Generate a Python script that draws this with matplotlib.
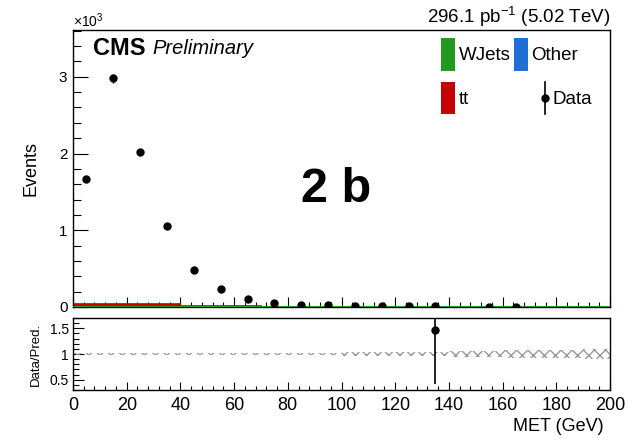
import numpy as np
import matplotlib
matplotlib.use("Agg")
import matplotlib.pyplot as plt
from matplotlib.ticker import MultipleLocator, FixedLocator
from matplotlib.patches import Rectangle
from matplotlib.lines import Line2D

plt.rcParams['font.family'] = ['Liberation Sans', 'DejaVu Sans']
plt.rcParams['mathtext.fontset'] = 'custom'
plt.rcParams['mathtext.rm'] = 'Liberation Sans'
plt.rcParams['mathtext.it'] = 'Liberation Sans:italic'
plt.rcParams['mathtext.bf'] = 'Liberation Sans:bold'

# ---------------- data ----------------
bin_edges = list(range(0, 210, 10))
bin_centers = [5, 15, 25, 35, 45, 55, 65, 75, 85, 95, 105, 115, 125, 135, 145, 155, 165, 175, 185, 195]
data_counts = [1670, 2980, 2020, 1050, 480, 235, 100, 55, 20, 30, 15, 15, 12, 8, 0, 6, 5, 0, 0, 0]
wjets = [6, 6, 6, 6, 6, 5, 5, 5, 5, 5, 5, 5, 5, 5, 5, 5, 5, 5, 5, 5]
other = [1, 1, 1, 1, 1, 1, 1, 1, 1, 1, 1, 1, 1, 1, 1, 1, 1, 1, 1, 1]
ttbar = [30, 32, 30, 28, 2, 1, 1, 0, 0, 0, 0, 0, 0, 0, 0, 0, 0, 0, 0, 0]
ratio_x = [135]
ratio_y = [1.47]
ratio_err_lo = [1.05]
ratio_err_hi = [0.6]
unc_rel = [0.02, 0.02, 0.02, 0.02, 0.02, 0.02, 0.02, 0.02, 0.025, 0.025, 0.03, 0.03, 0.035,
           0.04, 0.05, 0.06, 0.07, 0.08, 0.085, 0.09]
xticks = [0, 20, 40, 60, 80, 100, 120, 140, 160, 180, 200]
ratio_yticks = [0.5, 1.0, 1.5]
ratio_ylabels = ["0.5", "1", "1.5"]
main_yticks = [0, 1000, 2000, 3000]
main_ylabels = ["0", "1", "2", "3"]

c_green = '#1f9a1f'
c_blue = '#1f6fd6'
c_red = '#c80000'

fig = plt.figure(figsize=(6.32, 4.42), dpi=100)
W, H = 632, 442
def rect(x0, y0, x1, y1):
    return [x0 / W, 1 - y1 / H, (x1 - x0) / W, (y1 - y0) / H]

ax = fig.add_axes(rect(73, 30, 610, 307))
axr = fig.add_axes(rect(73, 318, 610, 390), sharex=ax)

edges = np.array(bin_edges)
w = np.array(wjets, float)
o = np.array(other, float)
t = np.array(ttbar, float)
ax.stairs(w, edges, baseline=0, fill=True, color=c_green, zorder=2)
ax.stairs(w + o, edges, baseline=w, fill=True, color=c_blue, zorder=2)
ax.stairs(w + o + t, edges, baseline=w + o, fill=True, color=c_red, zorder=2)
ax.stairs(w, edges, baseline=None, color=c_green, lw=1.5, zorder=3)
ax.stairs(w + o + t, edges, baseline=None, color=c_red, lw=1.2, zorder=2.5)

dc = np.array(data_counts, float)
mask = dc > 0
ax.errorbar(np.array(bin_centers)[mask], dc[mask], yerr=np.sqrt(dc[mask]), fmt='o',
            color='black', ms=5, elinewidth=1, capsize=0, zorder=5)

ax.set_xlim(0, 200)
ax.set_ylim(0, 3610)
ax.yaxis.set_major_locator(FixedLocator(main_yticks))
ax.set_yticklabels(main_ylabels)
ax.yaxis.set_minor_locator(MultipleLocator(200))
ax.xaxis.set_major_locator(FixedLocator(xticks))
ax.xaxis.set_minor_locator(MultipleLocator(4))
ax.tick_params(axis='x', which='both', direction='in', labelbottom=False)
ax.tick_params(axis='x', which='major', length=7, width=0.8)
ax.tick_params(axis='x', which='minor', length=3.5, width=0.8)
ax.tick_params(axis='y', which='major', direction='in', length=11, width=0.8, labelsize=11, pad=4)
ax.tick_params(axis='y', which='minor', direction='in', length=6, width=0.8)
for s in ax.spines.values():
    s.set_linewidth(1.0)
ax.set_ylabel("Events", fontsize=13)
ax.yaxis.set_label_coords(-0.063, 0.5)

ax.text(0.0, 1.0, r"$\times$10$^{3}$", transform=ax.transAxes, fontsize=10, ha='left', va='bottom')
ax.text(1.0, 1.005, r"296.1 pb$^{-1}$ (5.02 TeV)", transform=ax.transAxes, fontsize=13.5,
        ha='right', va='bottom')
ax.text(0.037, 0.935, "CMS", transform=ax.transAxes, fontsize=17, fontweight='bold',
        ha='left', va='center')
ax.text(0.147, 0.935, "Preliminary", transform=ax.transAxes, fontsize=14.5, style='italic',
        ha='left', va='center')
ax.text(98, 1600, "2 b", fontsize=35, fontweight='bold', ha='center', va='center_baseline')

# legend (manual, ROOT style)
def px2ax(x, y):
    return ((x - 73) / (610 - 73), (307 - y) / (307 - 30))
leg_entries = [(441, 38, 455, 71, c_green, "WJets", 459),
               (514, 38, 528, 71, c_blue, "Other", 531),
               (441, 82, 455, 114, c_red, "tt", 459)]
for x0, y0, x1, y1, col, lab, tx in leg_entries:
    a0 = px2ax(x0, y1)
    a1 = px2ax(x1, y0)
    ax.add_patch(Rectangle(a0, a1[0] - a0[0], a1[1] - a0[1], transform=ax.transAxes,
                           facecolor=col, edgecolor='none', zorder=6))
    ax.text(*px2ax(tx, (y0 + y1) / 2 + 1), lab, transform=ax.transAxes, fontsize=13.5,
            ha='left', va='center')
dx, dy0 = px2ax(545, 82)
_, dy1 = px2ax(545, 114)
_, dym = px2ax(545, 98)
ax.add_line(Line2D([dx, dx], [dy0, dy1], transform=ax.transAxes, color='black', lw=1.2))
ax.plot([dx], [dym], 'o', color='black', ms=5, transform=ax.transAxes)
ax.text(*px2ax(553, 99), "Data", transform=ax.transAxes, fontsize=13.5, ha='left', va='center')

# ratio panel
u = np.array(unc_rel)
axr.stairs(1 + u, edges, baseline=1 - u, fill=True, facecolor='none', edgecolor='#999999',
           hatch='xxx', lw=0, zorder=2)
axr.errorbar(ratio_x, ratio_y, yerr=[ratio_err_lo, ratio_err_hi], fmt='o', color='black',
             ms=5, elinewidth=1.2, capsize=0, zorder=5)
axr.set_ylim(0.3, 1.7)
axr.yaxis.set_major_locator(FixedLocator(ratio_yticks))
axr.set_yticklabels(ratio_ylabels)
axr.yaxis.set_minor_locator(MultipleLocator(0.1))
axr.set_xticks(xticks)
axr.set_xticklabels([str(v) for v in xticks])
axr.tick_params(axis='x', which='major', direction='in', length=6, width=0.8, labelsize=13, pad=5)
axr.tick_params(axis='x', which='minor', direction='in', length=3, width=0.8)
axr.tick_params(axis='y', which='major', direction='in', length=8, width=0.8, labelsize=10, pad=3)
axr.tick_params(axis='y', which='minor', direction='in', length=4, width=0.8)
for s in axr.spines.values():
    s.set_linewidth(1.0)
axr.set_ylabel("Data/Pred.", fontsize=9.5)
axr.yaxis.set_label_coords(-0.058, 0.5)
axr.set_xlabel("MET (GeV)", fontsize=13)
axr.xaxis.set_label_coords(0.988, -0.51)
axr.xaxis.label.set_horizontalalignment('right')
axr.xaxis.label.set_verticalalignment('center')

fig.savefig("out.png", dpi=100)
